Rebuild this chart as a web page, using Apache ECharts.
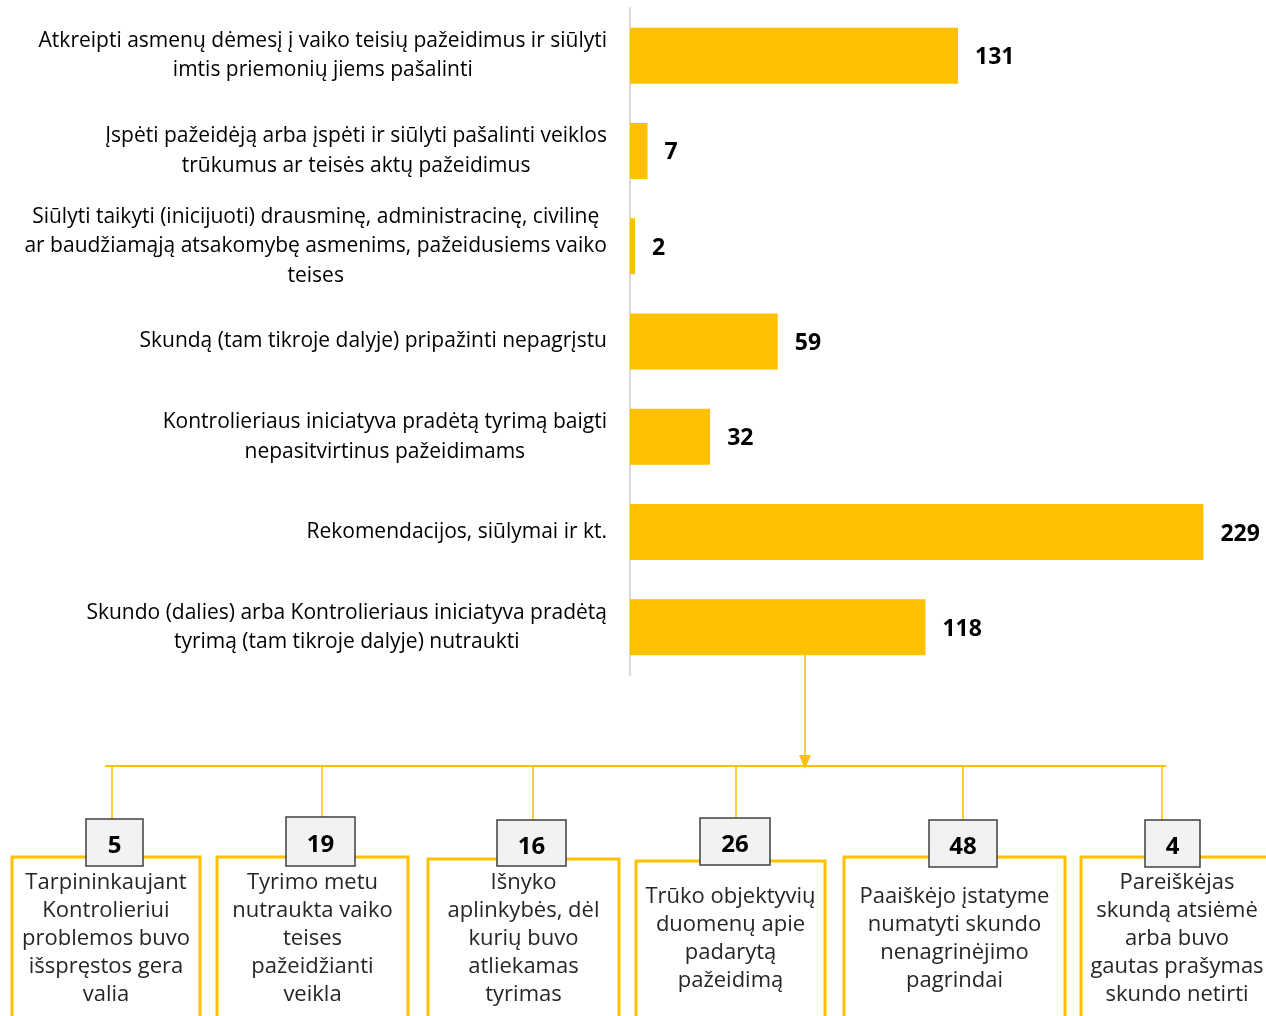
<!DOCTYPE html>
<html>
<head>
<meta charset="utf-8">
<script src="https://cdn.jsdelivr.net/npm/echarts@6/dist/echarts.min.js"></script>
<style>
  html, body { margin: 0; padding: 0; background: #fff; }
  #main { width: 1266px; height: 1016px; }
</style>
</head>
<body>
<div id="main"></div>
<script>
// pagrindinės kategorijos (viršutinė diagrama)
var categories = [
  'Atkreipti asmenų dėmesį į vaiko teisių pažeidimus ir siūlyti\nimtis priemonių jiems pašalinti',
  'Įspėti pažeidėją arba įspėti ir siūlyti pašalinti veiklos\ntrūkumus ar teisės aktų pažeidimus',
  'Siūlyti taikyti (inicijuoti) drausminę, administracinę, civilinę\nar baudžiamąją atsakomybę asmenims, pažeidusiems vaiko\nteises',
  'Skundą (tam tikroje dalyje) pripažinti nepagrįstu',
  'Kontrolieriaus iniciatyva pradėtą tyrimą baigti\nnepasitvirtinus pažeidimams',
  'Rekomendacijos, siūlymai ir kt.',
  'Skundo (dalies) arba Kontrolieriaus iniciatyva pradėtą\ntyrimą (tam tikroje dalyje) nutraukti'
];
var values = [131, 7, 2, 59, 32, 229, 118];

// nutraukimo priežastys (apatinė dalis)
var subLabels = [
  'Tarpininkaujant\nKontrolieriui\nproblemos buvo\nišspręstos gera\nvalia',
  'Tyrimo metu\nnutraukta vaiko\nteises\npažeidžianti\nveikla',
  'Išnyko\naplinkybės, dėl\nkurių buvo\natliekamas\ntyrimas',
  'Trūko objektyvių\nduomenų apie\npadarytą\npažeidimą',
  'Paaiškėjo įstatyme\nnumatyti skundo\nnenagrinėjimo\npagrindai',
  'Pareiškėjas\nskundą atsiėmė\narba buvo\ngautas prašymas\nskundo netirti'
];
var subValues = [5, 19, 16, 26, 48, 4];

// išdėstymas: [x, y, plotis] geltoniems rėmams ir [x, y, w, h] skaičių langeliams
var outerBoxes = [[12, 857, 188], [217, 857, 191], [428, 859, 191], [636, 861, 189], [844, 857, 221], [1081, 857, 192]];
var numBoxes = [[86, 819, 57, 47], [286, 817, 69, 49], [497, 820, 69, 46], [700, 818, 70, 47], [929, 820, 68, 47], [1145, 820, 55, 47]];
var dropX = [112, 322, 533, 736, 963, 1162];

var yellow = '#FFC000';
var font = '"Open Sans", sans-serif';

var myChart = echarts.init(document.getElementById('main'));

var elements = [];
// rodyklė nuo paskutinio stulpelio
elements.push({
  type: 'line', shape: { x1: 805, y1: 655, x2: 805, y2: 760 },
  style: { stroke: yellow, lineWidth: 1.5 }
});
elements.push({
  type: 'polygon', shape: { points: [[799, 755], [811, 755], [805, 769]] },
  style: { fill: yellow }
});
elements.push({
  type: 'line', shape: { x1: 105, y1: 766, x2: 1166, y2: 766 },
  style: { stroke: yellow, lineWidth: 2 }
});
for (var i = 0; i < subValues.length; i++) {
  var ob = outerBoxes[i];
  var nb = numBoxes[i];
  elements.push({
    type: 'line', shape: { x1: dropX[i], y1: 766, x2: dropX[i], y2: nb[1] },
    style: { stroke: yellow, lineWidth: 1.5 }
  });
  elements.push({
    type: 'rect', shape: { x: ob[0], y: ob[1], width: ob[2], height: 220 },
    style: { fill: '#fff', stroke: yellow, lineWidth: 3 }
  });
  elements.push({
    type: 'text', x: ob[0] + ob[2] / 2, y: 939,
    style: {
      text: subLabels[i], fill: '#262626', font: '22px ' + font,
      align: 'center', verticalAlign: 'middle', lineHeight: 28
    }
  });
  elements.push({
    type: 'rect', shape: { x: nb[0], y: nb[1], width: nb[2], height: nb[3] },
    style: { fill: '#f2f2f2', stroke: '#404040', lineWidth: 1.5 }
  });
  elements.push({
    type: 'text', x: nb[0] + nb[2] / 2, y: nb[1] + nb[3] / 2 + 4,
    style: {
      text: String(subValues[i]), fill: '#000', font: 'bold 24px ' + font,
      align: 'center', verticalAlign: 'middle'
    }
  });
}

myChart.setOption({
  animation: false,
  backgroundColor: '#fff',
  grid: {
    left: 630,
    top: 8,
    width: 626,
    height: 667
  },
  xAxis: {
    type: 'value',
    min: 0,
    max: 250,
    show: false
  },
  yAxis: {
    type: 'category',
    inverse: true,
    data: categories,
    axisTick: { show: false },
    axisLine: {
      lineStyle: { color: '#d9d9d9', width: 2 } // pilka ašies linija
    },
    axisLabel: {
      margin: 23,
      align: 'right',
      formatter: function (value) {
        return value.split('\n').map(function (s) { return '{c|' + s + '}'; }).join('\n');
      },
      rich: {
        c: {
          align: 'center',
          fontFamily: font,
          fontSize: 21,
          lineHeight: 29.5,
          color: '#000'
        }
      }
    }
  },
  series: [
    {
      type: 'bar',
      data: values,
      barWidth: 56,
      itemStyle: { color: yellow },
      label: {
        show: true,
        position: 'right',
        distance: 17,
        color: '#000',
        fontWeight: 'bold',
        fontSize: 23,
        fontFamily: font,
        offset: [0, 2]
      }
    }
  ],
  graphic: { elements: elements }
});
</script>
</body>
</html>
